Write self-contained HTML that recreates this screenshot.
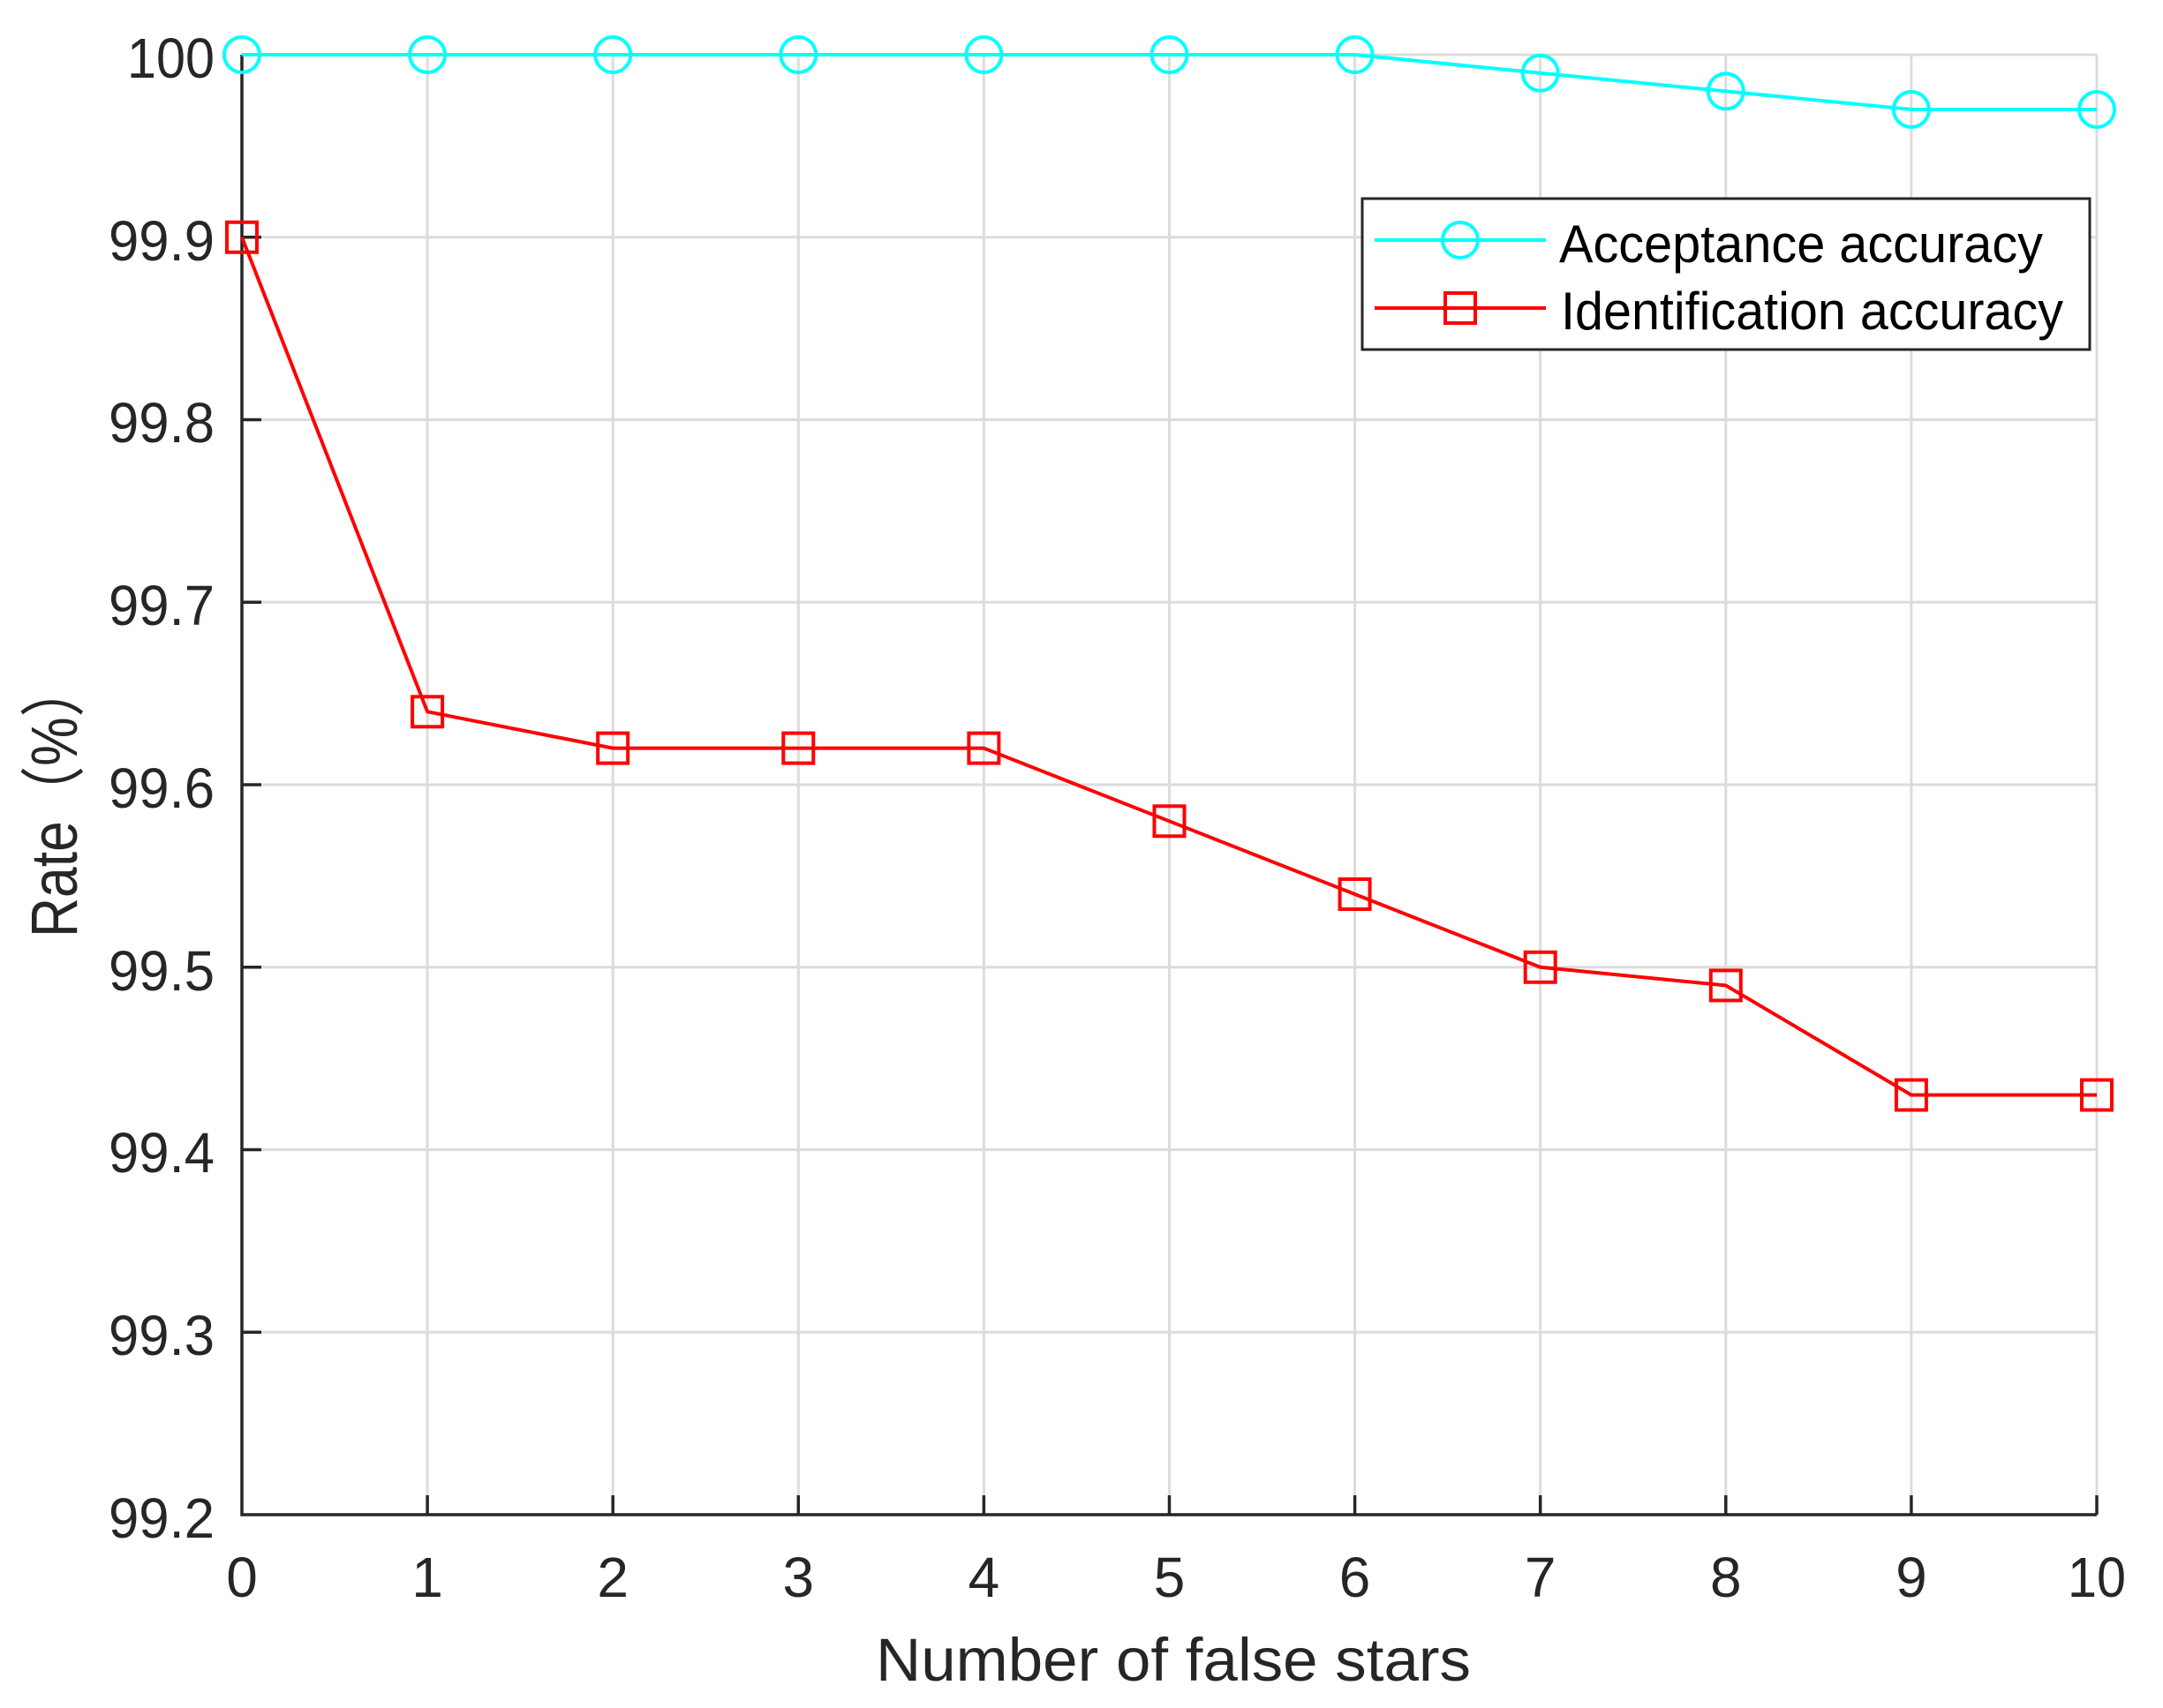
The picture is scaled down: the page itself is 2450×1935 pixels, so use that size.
<!DOCTYPE html>
<html><head><meta charset="utf-8"><style>html,body{margin:0;padding:0;background:#fff}svg{display:block}</style></head>
<body>
<svg width="2450" height="1935" xmlns="http://www.w3.org/2000/svg" font-family="Liberation Sans, Arial, sans-serif" fill="#262626">
<rect width="2450" height="1935" fill="#fff"/>
<g stroke="#dcdcdc" stroke-width="3">
<line x1="274" y1="62" x2="2375" y2="62"/>
<line x1="274" y1="268.75" x2="2375" y2="268.75"/>
<line x1="274" y1="475.5" x2="2375" y2="475.5"/>
<line x1="274" y1="682.25" x2="2375" y2="682.25"/>
<line x1="274" y1="889" x2="2375" y2="889"/>
<line x1="274" y1="1095.75" x2="2375" y2="1095.75"/>
<line x1="274" y1="1302.5" x2="2375" y2="1302.5"/>
<line x1="274" y1="1509.25" x2="2375" y2="1509.25"/>
<line x1="484.1" y1="62" x2="484.1" y2="1716"/>
<line x1="694.2" y1="62" x2="694.2" y2="1716"/>
<line x1="904.3" y1="62" x2="904.3" y2="1716"/>
<line x1="1114.4" y1="62" x2="1114.4" y2="1716"/>
<line x1="1324.5" y1="62" x2="1324.5" y2="1716"/>
<line x1="1534.6" y1="62" x2="1534.6" y2="1716"/>
<line x1="1744.7" y1="62" x2="1744.7" y2="1716"/>
<line x1="1954.8" y1="62" x2="1954.8" y2="1716"/>
<line x1="2164.9" y1="62" x2="2164.9" y2="1716"/>
<line x1="2375" y1="62" x2="2375" y2="1716"/>
</g>
<g stroke="#262626" stroke-width="3.5" fill="none">
<polyline points="274,62 274,1716 2375,1716"/>
<path d="M274,62h22M274,268.75h22M274,475.5h22M274,682.25h22M274,889h22M274,1095.75h22M274,1302.5h22M274,1509.25h22
M484.1,1716v-22M694.2,1716v-22M904.3,1716v-22M1114.4,1716v-22M1324.5,1716v-22M1534.6,1716v-22M1744.7,1716v-22M1954.8,1716v-22M2164.9,1716v-22M2375,1716v-22"/>
</g>
<g font-size="64" text-anchor="end">
<text x="243" y="88" textLength="99" lengthAdjust="spacingAndGlyphs">100</text>
<text x="243" y="295" textLength="120" lengthAdjust="spacingAndGlyphs">99.9</text>
<text x="243" y="501" textLength="120" lengthAdjust="spacingAndGlyphs">99.8</text>
<text x="243" y="708" textLength="120" lengthAdjust="spacingAndGlyphs">99.7</text>
<text x="243" y="915" textLength="120" lengthAdjust="spacingAndGlyphs">99.6</text>
<text x="243" y="1122" textLength="120" lengthAdjust="spacingAndGlyphs">99.5</text>
<text x="243" y="1328" textLength="120" lengthAdjust="spacingAndGlyphs">99.4</text>
<text x="243" y="1535" textLength="120" lengthAdjust="spacingAndGlyphs">99.3</text>
<text x="243" y="1742" textLength="120" lengthAdjust="spacingAndGlyphs">99.2</text>
</g>
<g font-size="64" text-anchor="middle">
<text x="274" y="1809">0</text><text x="484.1" y="1809">1</text><text x="694.2" y="1809">2</text><text x="904.3" y="1809">3</text><text x="1114.4" y="1809">4</text><text x="1324.5" y="1809">5</text><text x="1534.6" y="1809">6</text><text x="1744.7" y="1809">7</text><text x="1954.8" y="1809">8</text><text x="2164.9" y="1809">9</text><text x="2375" y="1809" textLength="66" lengthAdjust="spacingAndGlyphs">10</text>
</g>
<text x="992" y="1904" font-size="69" textLength="674" lengthAdjust="spacingAndGlyphs">Number of false stars</text>
<text transform="translate(87,1062) rotate(-90)" font-size="74" font-family="Liberation Sans, Noto Sans CJK SC, sans-serif" textLength="312" lengthAdjust="spacingAndGlyphs">Rate（%）</text>
<polyline fill="none" stroke="#00ffff" stroke-width="4" points="274,62 484.1,62 694.2,62 904.3,62 1114.4,62 1324.5,62 1534.6,62 1744.7,82.7 1954.8,103.4 2164.9,124 2375,124"/>
<g fill="none" stroke="#00ffff" stroke-width="4">
<circle cx="274" cy="62" r="20"/><circle cx="484.1" cy="62" r="20"/><circle cx="694.2" cy="62" r="20"/><circle cx="904.3" cy="62" r="20"/><circle cx="1114.4" cy="62" r="20"/><circle cx="1324.5" cy="62" r="20"/><circle cx="1534.6" cy="62" r="20"/><circle cx="1744.7" cy="82.7" r="20"/><circle cx="1954.8" cy="103.4" r="20"/><circle cx="2164.9" cy="124" r="20"/><circle cx="2375" cy="124" r="20"/>
</g>
<polyline fill="none" stroke="#ff0000" stroke-width="4" points="274,268.75 484.1,806.3 694.2,847.6 904.3,847.6 1114.4,847.6 1324.5,930.3 1534.6,1013 1744.7,1095.75 1954.8,1116.4 2164.9,1240.5 2375,1240.5"/>
<g fill="none" stroke="#ff0000" stroke-width="4">
<rect x="257" y="251.75" width="34" height="34"/>
<rect x="467.1" y="789.3" width="34" height="34"/>
<rect x="677.2" y="830.6" width="34" height="34"/>
<rect x="887.3" y="830.6" width="34" height="34"/>
<rect x="1097.4" y="830.6" width="34" height="34"/>
<rect x="1307.5" y="913.3" width="34" height="34"/>
<rect x="1517.6" y="996" width="34" height="34"/>
<rect x="1727.7" y="1078.75" width="34" height="34"/>
<rect x="1937.8" y="1099.4" width="34" height="34"/>
<rect x="2147.9" y="1223.5" width="34" height="34"/>
<rect x="2358" y="1223.5" width="34" height="34"/>
</g>
<rect x="1543" y="225" width="824" height="171" fill="#fff" stroke="#262626" stroke-width="3"/>
<line x1="1557" y1="272" x2="1751" y2="272" stroke="#00ffff" stroke-width="4"/>
<circle cx="1654" cy="272" r="20" fill="none" stroke="#00ffff" stroke-width="4"/>
<line x1="1557" y1="349" x2="1751" y2="349" stroke="#ff0000" stroke-width="4"/>
<rect x="1637" y="332" width="34" height="34" fill="none" stroke="#ff0000" stroke-width="4"/>
<g font-size="60" fill="#000">
<text x="1766" y="297" textLength="548" lengthAdjust="spacingAndGlyphs">Acceptance accuracy</text>
<text x="1768" y="373" textLength="569" lengthAdjust="spacingAndGlyphs">Identification accuracy</text>
</g>
</svg>
</body></html>
